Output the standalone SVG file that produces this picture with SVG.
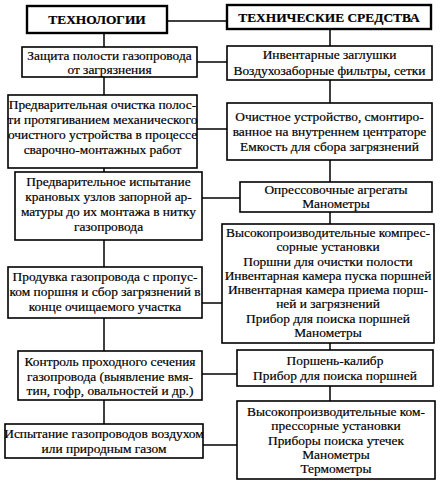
<svg xmlns="http://www.w3.org/2000/svg" width="441" height="485" viewBox="0 0 441 485">
<style>
.b{fill:#fff;stroke:#000;stroke-width:1.6}
.h{fill:#fff;stroke:#000;stroke-width:2.4}
.c{stroke:#000;stroke-width:1.5;fill:none}
text{font-family:"Liberation Serif","Times New Roman","DejaVu Serif",serif;font-size:13.4px;fill:#000;stroke:#000;stroke-width:0.2;text-anchor:middle}
.t{font-weight:bold;font-size:13.4px}
</style>
<rect width="441" height="485" fill="#fff"/>
<g id="connectors">
<path class="c" d="M167 21H227"/>
<path class="c" d="M104 33V47M330 29V46"/>
<path class="c" d="M197 62H227"/>
<path class="c" d="M104 77V95M330 80V103"/>
<path class="c" d="M197 129H227"/>
<path class="c" d="M104 168V172M330 160V182"/>
<path class="c" d="M202 198H240"/>
<path class="c" d="M104 240V267M330 212V224"/>
<path class="c" d="M202 303H222"/>
<path class="c" d="M104 318V351M330 343V350"/>
<path class="c" d="M202 374H237"/>
<path class="c" d="M104 400V424M330 386V401"/>
<path class="c" d="M203 445H237"/>
</g>
<g id="hdr-left"><rect class="h" x="27" y="6" width="140" height="27"/><text class="t" x="97" y="24">ТЕХНОЛОГИИ</text></g>
<g id="hdr-right"><rect class="h" x="227" y="5" width="204" height="24"/><text class="t" x="329" y="21.5">ТЕХНИЧЕСКИЕ СРЕДСТВА</text></g>
<g id="l1"><rect class="b" x="22" y="47" width="175" height="30"/><text x="109.5" y="60">Защита полости газопровода</text><text x="109.5" y="74">от загрязнения</text></g>
<g id="r1"><rect class="b" x="227" y="46" width="205" height="34"/><text x="329.5" y="59">Инвентарные заглушки</text><text x="329.5" y="75">Воздухозаборные фильтры, сетки</text></g>
<g id="l2"><rect class="b" x="8" y="95" width="189" height="73"/><text x="102.5" y="109">Предварительная очистка полос-</text><text x="102.5" y="124">ти протягиванием механического</text><text x="102.5" y="139">очистного устройства в процессе</text><text x="102.5" y="154">сварочно-монтажных работ</text></g>
<g id="r2"><rect class="b" x="227" y="103" width="205" height="57"/><text x="329.5" y="121">Очистное устройство, смонтиро-</text><text x="329.5" y="136">ванное на внутреннем центраторе</text><text x="329.5" y="151">Емкость для сбора загрязнений</text></g>
<g id="l3"><rect class="b" x="15" y="172" width="187" height="68"/><text x="108.5" y="186">Предварительное испытание</text><text x="108.5" y="201">крановых узлов запорной ар-</text><text x="108.5" y="216">матуры до их монтажа в нитку</text><text x="108.5" y="231">газопровода</text></g>
<g id="r3"><rect class="b" x="240" y="182" width="192" height="30"/><text x="336" y="194">Опрессовочные агрегаты</text><text x="336" y="208">Манометры</text></g>
<g id="r4"><rect class="b" x="222" y="224" width="212" height="119"/><text x="328" y="237">Высокопроизводительные компрес-</text><text x="328" y="251">сорные установки</text><text x="328" y="266">Поршни для очистки полости</text><text x="328" y="280">Инвентарная камера пуска поршней</text><text x="328" y="294">Инвентарная камера приема порш-</text><text x="328" y="308">ней и загрязнений</text><text x="328" y="323">Прибор для поиска поршней</text><text x="328" y="337">Манометры</text></g>
<g id="l4"><rect class="b" x="8" y="267" width="194" height="51"/><text x="105" y="281">Продувка газопровода с пропус-</text><text x="105" y="296">ком поршня и сбор загрязнений в</text><text x="105" y="311">конце очищаемого участка</text></g>
<g id="l5"><rect class="b" x="18" y="351" width="184" height="49"/><text x="110" y="366">Контроль проходного сечения</text><text x="110" y="381">газопровода (выявление вмя-</text><text x="110" y="395">тин, гофр, овальностей и др.)</text></g>
<g id="r5"><rect class="b" x="237" y="350" width="196" height="36"/><text x="335" y="365">Поршень-калибр</text><text x="335" y="380">Прибор для поиска поршней</text></g>
<g id="l6"><rect class="b" x="5" y="424" width="198" height="34"/><text x="104" y="438">Испытание газопроводов воздухом</text><text x="104" y="453">или природным газом</text></g>
<g id="r6"><rect class="b" x="237" y="401" width="198" height="78"/><text x="336" y="416">Высокопроизводительные ком-</text><text x="336" y="430">прессорные установки</text><text x="336" y="445">Приборы поиска утечек</text><text x="336" y="459">Манометры</text><text x="336" y="473">Термометры</text></g>
</svg>
